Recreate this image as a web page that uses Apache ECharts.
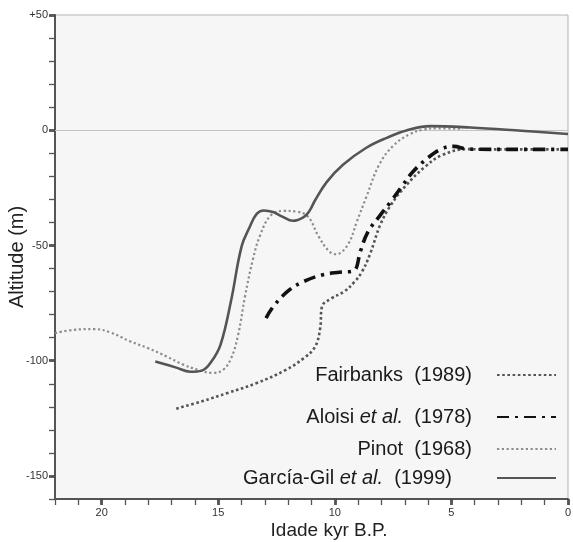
<!DOCTYPE html>
<html>
<head>
<meta charset="utf-8">
<script src="https://cdn.jsdelivr.net/npm/echarts@6/dist/echarts.min.js"></script>
<style>
html,body{margin:0;padding:0;background:#fff;}
#c{width:573px;height:542px;}
</style>
</head>
<body>
<div id="c"></div>
<script>
// Age (kyr B.P.) and altitude (m) pairs
var fairbanks = [
  [16.8,-120.8],[15.7,-117.6],[14.6,-114],[13.35,-109.7],[12.1,-104],[11.35,-99],
  [10.85,-94],[10.63,-86],[10.55,-76.5],[10.15,-73],[9.6,-70],[9.15,-65.7],
  [8.83,-61.3],[8.5,-54],[8.05,-41],[7.6,-32.5],[6.95,-24],[6.15,-16],
  [5.4,-10.8],[4.3,-8.2],[3.8,-8.3],[0,-8.3]
];
var aloisi = [
  [12.95,-81.5],[12.6,-76],[11.95,-69.3],[11.35,-65.7],[10.55,-62.8],[9.8,-61.6],
  [9.2,-61],[8.9,-52.5],[8.6,-44.5],[8.05,-36.8],[7.6,-31],[7.1,-24],
  [6.65,-18],[5.95,-11.5],[5.4,-8],[4.9,-7],[4.3,-8.2],[2,-8.3],[0,-8.3]
];
var pinot = [
  [22,-88],[21.2,-86.6],[20.3,-86.3],[19.6,-87.8],[18.8,-91.5],[18.0,-94.6],
  [17.2,-98.2],[16.5,-101.7],[15.85,-104],[15.25,-105.3],[14.8,-104],[14.45,-99],
  [14.15,-89],[13.85,-72],[13.5,-55.5],[13.2,-45.5],[12.75,-37],[12.2,-35],
  [11.65,-35.3],[11.15,-37.5],[10.7,-46],[10.25,-52.5],[9.95,-53.8],[9.45,-49.8],
  [9.05,-39.5],[8.65,-29],[8.1,-15],[7.5,-6.8],[6.8,-1.8],[6.2,0.3],[5.6,0.8],[4.5,0.6]
];
var garcia = [
  [17.7,-100.3],[16.8,-103],[16.2,-104.8],[15.7,-104.3],[15.3,-100.5],[14.9,-93],
  [14.45,-74],[14.0,-50.5],[13.65,-42],[13.35,-36.3],[13.05,-34.8],[12.65,-35.5],
  [12.25,-37.5],[11.8,-39.3],[11.35,-37.8],[11.1,-35.2],[10.85,-30.5],[10.35,-22.5],
  [9.65,-15],[8.65,-7.6],[7.75,-3.2],[6.9,0],[5.9,1.8],[4.2,1.2],[2.0,-0.2],[0,-1.6]
];
var seriesNames = ['Fairbanks  (1989)', 'Aloisi et al.  (1978)', 'Pinot  (1968)', 'García-Gil et al.  (1999)'];
var xMajorTicks = [0, 5, 10, 15, 20];
var yMajorTicks = [-150, -100, -50, 0, 50];

var FONT = 'Liberation Sans, Arial, sans-serif';
var chart = echarts.init(document.getElementById('c'));

function legendFor(idx, top, padRight, fmt) {
  return {
    data: [seriesNames[idx]],
    right: 16, top: top, padding: 0,
    align: 'right', orient: 'horizontal',
    itemWidth: 59, itemHeight: 14,
    selectedMode: false,
    formatter: fmt,
    itemStyle: {opacity: 0, borderWidth: 0},
    textStyle: {
      fontFamily: FONT, fontSize: 20, color: '#1a1a1a', lineHeight: 20,
      padding: [0, padRight, 0, 0],
      rich: {
        n: {fontFamily: FONT, fontSize: 20, color: '#1a1a1a'},
        i: {fontFamily: FONT, fontSize: 20, color: '#1a1a1a', fontStyle: 'italic'}
      }
    }
  };
}

var option = {
  backgroundColor: '#ffffff',
  animation: false,
  grid: [
    {left: 55, right: 5, top: 15, bottom: 43, outerBoundsMode: 'none', containLabel: false,
     show: true, backgroundColor: '#f6f6f6', borderColor: '#b5b5b5', borderWidth: 1},
    {left: 55, right: 5, top: 15, bottom: 43, outerBoundsMode: 'none', containLabel: false, show: false}
  ],
  xAxis: [
    {
      type: 'value', gridIndex: 0, min: 0, max: 22, inverse: true,
      name: 'Idade kyr B.P.', nameLocation: 'middle', nameGap: 22, nameMoveOverlap: false,
      nameTextStyle: {fontFamily: FONT, fontSize: 19, color: '#222', padding: [0, 0, 0, 35]},
      axisLine: {show: true, onZero: false, lineStyle: {color: '#555', width: 2}},
      axisTick: {show: true, customValues: xMajorTicks, length: 6, lineStyle: {color: '#333', width: 2.5}},
      axisLabel: {customValues: xMajorTicks, fontFamily: FONT, fontSize: 11, color: '#333', margin: 8},
      splitLine: {show: false}
    },
    {
      type: 'value', gridIndex: 1, min: 0, max: 22, interval: 1, inverse: true,
      axisLine: {show: false, onZero: false},
      axisTick: {show: true, length: 6, lineStyle: {color: '#555', width: 1.3}},
      axisLabel: {show: false}, splitLine: {show: false}
    }
  ],
  yAxis: [
    {
      type: 'value', gridIndex: 0, min: -160, max: 50,
      name: 'Altitude (m)', nameLocation: 'middle', nameGap: 28, nameMoveOverlap: false,
      nameTextStyle: {fontFamily: FONT, fontSize: 20, color: '#222'},
      axisLine: {show: true, onZero: false, lineStyle: {color: '#555', width: 2}},
      axisTick: {show: true, customValues: yMajorTicks, length: 6, lineStyle: {color: '#333', width: 2.5}},
      axisLabel: {customValues: yMajorTicks, fontFamily: FONT, fontSize: 11, color: '#333', margin: 7,
        formatter: function (v) { return v > 0 ? '+' + v : String(v); }},
      splitLine: {show: false}
    },
    {
      type: 'value', gridIndex: 1, min: -160, max: 50, interval: 10,
      axisLine: {show: false, onZero: false},
      axisTick: {show: true, length: 6, lineStyle: {color: '#555', width: 1.3}},
      axisLabel: {show: false}, splitLine: {show: false}
    }
  ],
  legend: [
    legendFor(0, 365, 20, '{n|Fairbanks  (1989)}'),
    legendFor(1, 407, 20, '{n|Aloisi }{i|et al.}{n|  (1978)}'),
    legendFor(2, 439, 20, '{n|Pinot  (1968)}'),
    legendFor(3, 468, 40, '{n|García-Gil }{i|et al.}{n|  (1999)}')
  ],
  series: [
    {
      name: seriesNames[0], type: 'line', xAxisIndex: 0, yAxisIndex: 0, data: fairbanks,
      showSymbol: false, symbol: 'none', smooth: 0.4,
      lineStyle: {color: '#555555', width: 2.6, type: [2.6, 2.6], cap: 'butt'},
      itemStyle: {color: '#555555'}, z: 3
    },
    {
      name: seriesNames[1], type: 'line', xAxisIndex: 0, yAxisIndex: 0, data: aloisi,
      showSymbol: false, symbol: 'none', smooth: 0.4,
      lineStyle: {color: '#111111', width: 3.6, type: [12, 6, 3, 6], cap: 'butt'},
      itemStyle: {color: '#111111'}, z: 4
    },
    {
      name: seriesNames[2], type: 'line', xAxisIndex: 0, yAxisIndex: 0, data: pinot,
      showSymbol: false, symbol: 'none', smooth: 0.4,
      lineStyle: {color: '#8c8c8c', width: 2.2, type: [2.2, 2.6], cap: 'butt'},
      itemStyle: {color: '#8c8c8c'}, z: 3
    },
    {
      name: seriesNames[3], type: 'line', xAxisIndex: 0, yAxisIndex: 0, data: garcia,
      showSymbol: false, symbol: 'none', smooth: 0.4,
      lineStyle: {color: '#555555', width: 2.6, type: 'solid'},
      itemStyle: {color: '#555555'}, z: 5,
      markLine: {
        silent: true, symbol: 'none', label: {show: false},
        lineStyle: {color: '#c4c4c4', width: 1, type: 'solid'},
        data: [{yAxis: 0}], z: 1
      }
    }
  ]
};
chart.setOption(option);
</script>
</body>
</html>
